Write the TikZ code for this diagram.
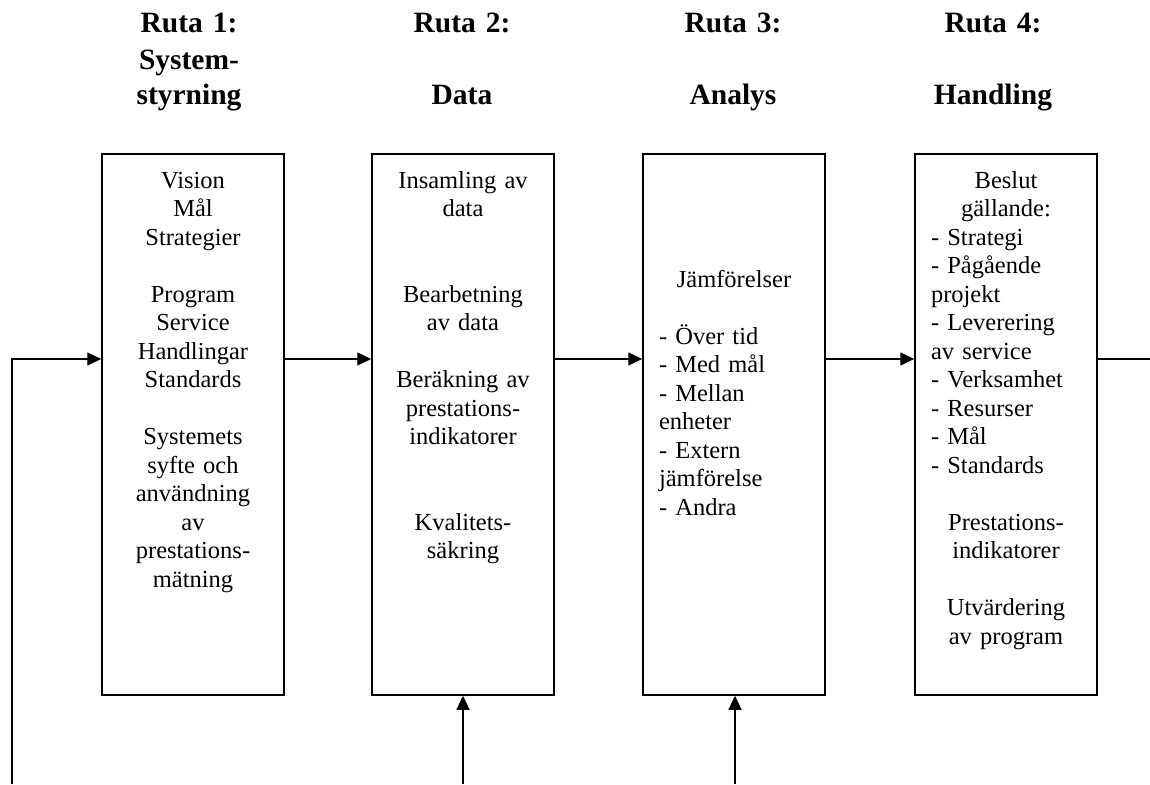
\documentclass[tikz,border=0pt]{standalone}
\usepackage{fontspec}
\setmainfont{Liberation Serif}
\usetikzlibrary{arrows.meta}
% a left-aligned line inside a centred text block
\newcommand\lft[1]{\leavevmode\hbox to 150pt{#1\hfil}}
\begin{document}
\begin{tikzpicture}[x=1pt,y=-1pt,
  stage/.style={draw,line width=1.5pt,minimum width=182pt,minimum height=541pt,inner sep=0pt},
  body/.style={anchor=base,text width=150pt,align=center,inner sep=0pt,
    font=\fontsize{24.5pt}{28.5pt}\selectfont},
  head/.style={anchor=base,text width=200pt,align=center,inner sep=0pt,
    font=\fontsize{29.5pt}{36pt}\selectfont\bfseries},
  conn/.style={line width=1.3pt,-{Triangle[length=14pt,width=13pt]}},
  plain/.style={line width=1.3pt}]
\useasboundingbox (0,0) rectangle (1150,784);

% column headings
\node[head] (h1) at (189,33) {Ruta 1:\\System-\\styrning};
\node[head] (h2) at (462,33) {Ruta 2:\\[36pt]Data};
\node[head] (h3) at (733,33) {Ruta 3:\\[36pt]Analys};
\node[head] (h4) at (993,33) {Ruta 4:\\[36pt]Handling};

% the four stages
\node[stage] (b1) at (193,424.5) {};
\node[stage] (b2) at (463,424.5) {};
\node[stage] (b3) at (734,424.5) {};
\node[stage] (b4) at (1006,424.5) {};

\node[body] (t1) at (193,188) {Vision\\Mål\\Strategier\\[28.5pt]Program\\Service\\Handlingar\\Standards\\[28.5pt]Systemets\\syfte och\\användning\\av\\prestations-\\mätning};
\node[body] (t2) at (463,188) {Insamling av\\data\\[57pt]Bearbetning\\av data\\[28.5pt]Beräkning av\\prestations-\\indikatorer\\[57pt]Kvalitets-\\säkring};
\node[body] (t3) at (734,287) {Jämförelser\\[28.5pt]\lft{- Över tid}\\\lft{- Med mål}\\\lft{- Mellan}\\\lft{enheter}\\\lft{- Extern}\\\lft{jämförelse}\\\lft{- Andra}};
\node[body] (t4) at (1006,188) {Beslut\\gällande:\\\lft{- Strategi}\\\lft{- Pågående}\\\lft{projekt}\\\lft{- Leverering}\\\lft{av service}\\\lft{- Verksamhet}\\\lft{- Resurser}\\\lft{- Mål}\\\lft{- Standards}\\[28.5pt]Prestations-\\indikatorer\\[28.5pt]Utvärdering\\av program};

% connectors
\coordinate (row) at (0,359);
\coordinate (back) at (12,784);
\coordinate (out) at (1150,359);
\coordinate (in2) at (463,784);
\coordinate (in3) at (735,784);

\draw[conn] (back) |- (b1.west |- row);
\draw[conn] (b1.east |- row) -- (b2.west |- row);
\draw[conn] (b2.east |- row) -- (b3.west |- row);
\draw[conn] (b3.east |- row) -- (b4.west |- row);
\draw[plain] (b4.east |- row) -- (out);
\draw[conn] (in2) -- (b2.south);
\draw[conn] (in3) -- (b3.south -| in3);
\end{tikzpicture}
\end{document}
